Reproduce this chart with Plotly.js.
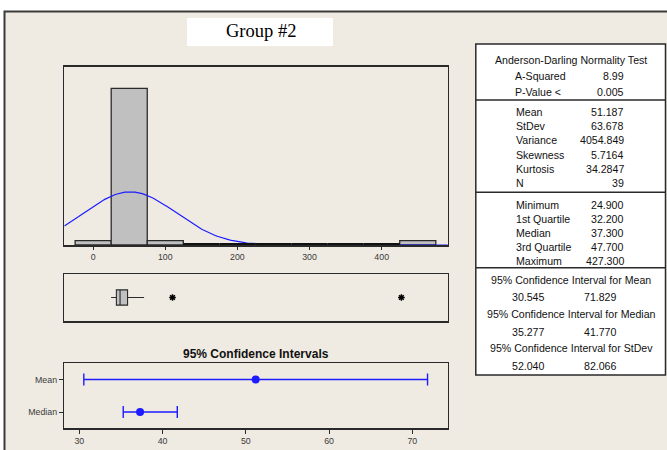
<!DOCTYPE html>
<html>
<head>
<meta charset="utf-8">
<script src="https://cdn.plot.ly/plotly-3.0.1.min.js"></script>
<style>html,body{margin:0;padding:0;background:#fff;}#chart{width:667px;height:450px;}</style>
</head>
<body>
<div id="chart"></div>
<script>
// ---------------- data ----------------
const chartTitle = 'Group #2';
const binCenters = [0, 50, 100, 150, 200, 250, 300, 350, 400, 450];
const binCounts  = [1, 36, 1, 0, 0, 0, 0, 0, 0, 1];
const binWidth = 50;
const fitMean = 51.187;
const fitStDev = 63.678;
const sampleN = 39;

const boxQ1 = [32.2];
const boxMedian = [37.3];
const boxQ3 = [47.7];
const boxLowWhisker = [24.9];
const boxHighWhisker = [70.6];
const boxOutliers = [110, 427.3];

const ciLabels = ['Mean', 'Median'];
const ciCenter = [51.187, 37.3];
const ciLow = [30.545, 35.277];
const ciHigh = [71.829, 41.770];
const ciTitle = '95% Confidence Intervals';
const histTicks = [0, 100, 200, 300, 400];
const ciTicks = [30, 40, 50, 60, 70];

const adHeader = 'Anderson-Darling Normality Test';
const adLabels = ['A-Squared', 'P-Value <'];
const adValues = ['8.99', '0.005'];
const descLabels = ['Mean', 'StDev', 'Variance', 'Skewness', 'Kurtosis', 'N'];
const descValues = ['51.187', '63.678', '4054.849', '5.7164', '34.2847', '39'];
const quantLabels = ['Minimum', '1st Quartile', 'Median', '3rd Quartile', 'Maximum'];
const quantValues = ['24.900', '32.200', '37.300', '47.700', '427.300'];
const ciTableTitles = ['95% Confidence Interval for Mean', '95% Confidence Interval for Median', '95% Confidence Interval for StDev'];
const ciTableLow = ['30.545', '35.277', '52.040'];
const ciTableHigh = ['71.829', '41.770', '82.066'];

// ---------------- helpers ----------------
const W = 667, H = 450;
const px = x => x / W;
const py = y => 1 - y / H;
const FONT = 'Arial, "Liberation Sans", sans-serif';
const LINE = '#2a2a2a';
const BLUE = '#1c1cff';

// fitted normal curve from the reported mean / stdev
const curveX = [], curveY = [];
for (let x = -40; x <= 492; x += 2) {
  const z = (x - fitMean) / fitStDev;
  curveX.push(x);
  curveY.push(sampleN * binWidth * Math.exp(-0.5 * z * z) / (fitStDev * Math.sqrt(2 * Math.PI)));
}
// outline of empty bins along the baseline
const emptyX = [], emptyY = [];
binCenters.forEach((c, i) => {
  if (binCounts[i] === 0) { emptyX.push(c - binWidth / 2, c + binWidth / 2, null); emptyY.push(0, 0, null); }
});

const traces = [
  { type: 'bar', x: binCenters, y: binCounts, width: binWidth, xaxis: 'x', yaxis: 'y',
    marker: { color: '#c0c0c0', line: { color: LINE, width: 1.3 } }, hoverinfo: 'x+y' },
  { type: 'scatter', mode: 'lines', x: curveX, y: curveY, xaxis: 'x', yaxis: 'y',
    line: { color: BLUE, width: 1.2 } },
  { type: 'scatter', mode: 'lines', x: emptyX, y: emptyY, xaxis: 'x', yaxis: 'y',
    line: { color: '#111', width: 4 }, hoverinfo: 'skip' },
  { type: 'box', orientation: 'h', y: [0], q1: boxQ1, median: boxMedian, q3: boxQ3,
    lowerfence: boxLowWhisker, upperfence: boxHighWhisker, xaxis: 'x2', yaxis: 'y2',
    width: 0.65, whiskerwidth: 0, boxpoints: false, fillcolor: '#c0c0c0',
    line: { color: LINE, width: 1.1 } },
  { type: 'scatter', mode: 'markers', x: boxOutliers, y: boxOutliers.map(() => 0), xaxis: 'x2', yaxis: 'y2',
    marker: { symbol: 'asterisk-open', size: 5.5, color: '#000', line: { color: '#000', width: 1.5 } } },
  { type: 'scatter', mode: 'markers', x: ciCenter, y: ciLabels, xaxis: 'x3', yaxis: 'y3',
    marker: { symbol: 'circle', size: 8, color: BLUE },
    error_x: { type: 'data', symmetric: false,
      array: ciHigh.map((h, i) => h - ciCenter[i]),
      arrayminus: ciLow.map((l, i) => ciCenter[i] - l),
      color: BLUE, thickness: 1.4, width: 6 } }
];

const xDom = [px(64.3), px(447.7)];
const axisFrame = { showline: true, mirror: true, linecolor: LINE, linewidth: 1.5, zeroline: false, showgrid: false };
const tickFont = { family: FONT, size: 8.8, color: '#3a3a3a' };

const shapes = [
  // beige outer panel
  { type: 'rect', xref: 'paper', yref: 'paper', x0: px(4.5), x1: px(670), y0: py(455), y1: py(11.5),
    fillcolor: '#efebe2', line: { color: '#3a3a3a', width: 2 }, layer: 'below' },
  // title box
  { type: 'rect', xref: 'paper', yref: 'paper', x0: px(187), x1: px(333), y0: py(46), y1: py(18),
    fillcolor: '#ffffff', line: { width: 0 }, layer: 'below' },
  // stats table
  { type: 'rect', xref: 'paper', yref: 'paper', x0: px(475.8), x1: px(665.5), y0: py(375), y1: py(44),
    fillcolor: '#ffffff', line: { color: LINE, width: 1.5 }, layer: 'below' }
];
[100, 192.3, 267.7].forEach(y => shapes.push({ type: 'line', xref: 'paper', yref: 'paper',
  x0: px(475.8), x1: px(665.5), y0: py(y), y1: py(y), line: { color: LINE, width: 1.5 } }));

const annotations = [];
const addText = (text, x, y, anchor, size, opts = {}) => annotations.push(Object.assign({
  text: text, xref: 'paper', yref: 'paper', x: px(x), y: py(y), xanchor: anchor, yanchor: 'middle',
  showarrow: false, font: { family: FONT, size: size, color: '#111' } }, opts));

addText(chartTitle, 261, 31, 'center', 18.5, { font: { family: '"Liberation Serif", "Times New Roman", serif', size: 18.5, color: '#000' } });
addText('<b>' + ciTitle + '</b>', 256, 354, 'center', 12, { font: { family: FONT, size: 12, color: '#111' } });

const TS = 10.6;
const labX = 513.5, valX = 626;
addText(adHeader, 571, 59.5, 'center', TS);
adLabels.forEach((l, i) => { addText(l, labX - 1, 75.7 + i * 16, 'left', TS); addText(adValues[i], valX, 75.7 + i * 16, 'right', TS); });
descLabels.forEach((l, i) => { addText(l, labX, 111.7 + i * 14.3, 'left', TS); addText(descValues[i], valX, 111.7 + i * 14.3, 'right', TS); });
quantLabels.forEach((l, i) => { addText(l, labX, 204.5 + i * 14.1, 'left', TS); addText(quantValues[i], valX, 204.5 + i * 14.1, 'right', TS); });
ciTableTitles.forEach((t, i) => {
  const y0 = 279.5 + i * 34.3;
  addText(t, 571, y0, 'center', TS);
  addText(ciTableLow[i], 528, y0 + 17.8, 'center', TS);
  addText(ciTableHigh[i], 600.5, y0 + 17.8, 'center', TS);
});

const layout = {
  width: W, height: H, margin: { l: 0, r: 0, t: 0, b: 0, pad: 0 },
  paper_bgcolor: '#ffffff', plot_bgcolor: '#ffffff', showlegend: false, bargap: 0,
  font: { family: FONT },
  xaxis: Object.assign({}, axisFrame, { domain: xDom, anchor: 'y', range: [-40, 491.5],
    tickmode: 'array', tickvals: histTicks, ticks: 'outside', ticklen: 3, tickcolor: LINE, tickfont: tickFont }),
  yaxis: Object.assign({}, axisFrame, { domain: [py(245), py(66.7)], anchor: 'x', range: [0, 41],
    showticklabels: false, ticks: '' }),
  xaxis2: Object.assign({}, axisFrame, { domain: xDom, anchor: 'y2', range: [-40, 491.5],
    showticklabels: false, ticks: '' }),
  yaxis2: Object.assign({}, axisFrame, { domain: [py(321), py(274)], anchor: 'x2', range: [-1, 1],
    showticklabels: false, ticks: '' }),
  xaxis3: Object.assign({}, axisFrame, { domain: xDom, anchor: 'y3', range: [28.2, 74.25],
    tickmode: 'array', tickvals: ciTicks, ticks: 'outside', ticklen: 4, tickcolor: LINE, tickfont: tickFont }),
  yaxis3: Object.assign({}, axisFrame, { domain: [py(428.3), py(363.3)], anchor: 'x3', range: [-0.5, 1.5],
    type: 'category', categoryorder: 'array', categoryarray: ciLabels.slice().reverse(),
    ticks: 'outside', ticklen: 4, tickcolor: LINE, tickfont: tickFont }),
  shapes: shapes, annotations: annotations
};

Plotly.newPlot('chart', traces, layout, { staticPlot: true, displayModeBar: false });
</script>
</body>
</html>
